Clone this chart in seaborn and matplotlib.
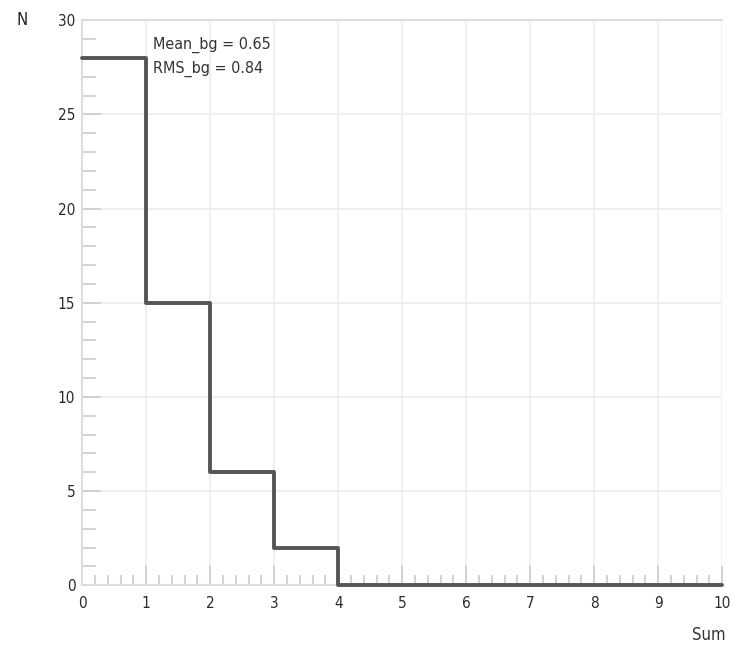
import numpy as np
import pandas as pd
import matplotlib.pyplot as plt
import seaborn as sns
from matplotlib.ticker import MultipleLocator

# --- data ---
bin_left = [0, 1, 2, 3, 4, 5, 6, 7, 8, 9]
counts = [28, 15, 6, 2, 0, 0, 0, 0, 0, 0]
bin_edges = [0, 1, 2, 3, 4, 5, 6, 7, 8, 9, 10]
stats_text = ["Mean_bg = 0.65", "RMS_bg = 0.84"]

df = pd.DataFrame({"Sum": bin_left, "N": counts})

sns.set_style("white")
plt.rcParams['font.family'] = ['DejaVu Sans']
plt.rcParams['font.stretch'] = 'condensed'

fig = plt.figure(figsize=(7.34, 6.51), dpi=100)
ax = fig.add_axes([0.112, 0.101, 0.872, 0.868])

sns.histplot(data=df, x="Sum", weights="N", bins=bin_edges,
             element="step", fill=False, color="#555555", linewidth=2.8, ax=ax)
for art in ax.lines + ax.collections + ax.patches:
    art.set_clip_on(False)
    art.set_zorder(4)

ax.set_xlim(0, 10)
ax.set_ylim(0, 30)
ax.xaxis.set_major_locator(MultipleLocator(1))
ax.xaxis.set_minor_locator(MultipleLocator(0.2))
ax.yaxis.set_major_locator(MultipleLocator(5))
ax.yaxis.set_minor_locator(MultipleLocator(1))
ax.grid(True, which="major", color="#ececec", linewidth=1.2)
ax.set_axisbelow(True)

ax.tick_params(which="both", direction="in", bottom=True, left=True,
               color="#cccccc", labelsize=11, labelcolor="#2a2a2a")
ax.tick_params(axis="x", which="major", length=14, width=1.2, pad=8)
ax.tick_params(axis="x", which="minor", length=7, width=1.2)
ax.tick_params(axis="y", which="major", length=14, width=1.2, pad=5)
ax.tick_params(axis="y", which="minor", length=10, width=1.2)

for side in ["left", "bottom", "top", "right"]:
    ax.spines[side].set_color("#dddddd")
    ax.spines[side].set_linewidth(1.5)
ax.spines["right"].set_visible(False)

ax.set_xlabel("")
ax.set_ylabel("")
fig.text(0.965, 0.025, "Sum", fontsize=12, color="#333333", ha="center", va="center")
fig.text(0.03, 0.97, "N", fontsize=12, color="#222222", ha="center", va="center")

ax.text(1.1, 28.7, stats_text[0], fontsize=11.5, color="#333333", va="center")
ax.text(1.1, 27.4, stats_text[1], fontsize=11.5, color="#333333", va="center")

plt.savefig("out.png", dpi=100)
